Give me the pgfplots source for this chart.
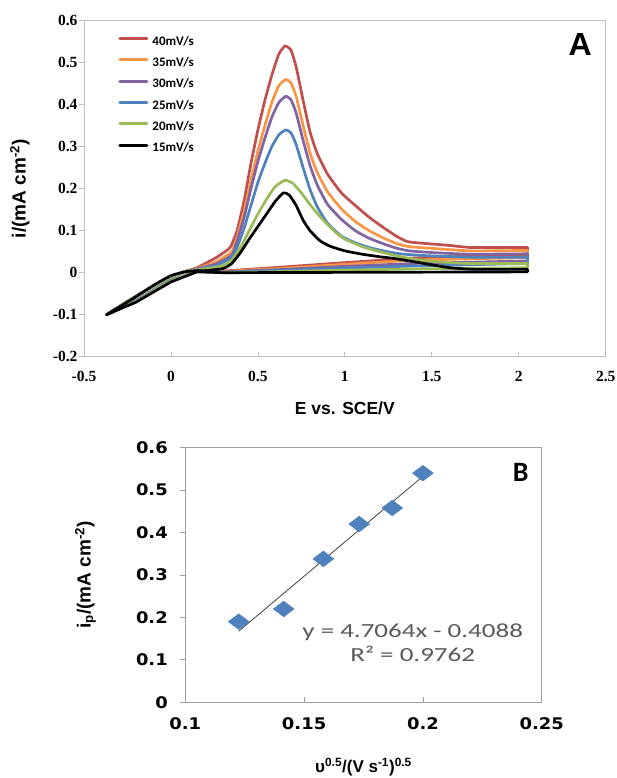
\documentclass[border=0pt]{standalone}
\usepackage{fontspec}
\setmainfont{Liberation Sans}
\newfontfamily\tnr{Liberation Serif}
\newfontfamily\dvs{DejaVu Sans}[FakeStretch=1.12]
\newfontfamily\carl{Carlito}
\newfontfamily\carlw{Carlito}[FakeStretch=1.35]
\usepackage{pgfplots}
\pgfplotsset{compat=1.18}
\definecolor{cvred}{HTML}{C0504D}
\definecolor{cvorange}{HTML}{F79646}
\definecolor{cvpurple}{HTML}{8064A2}
\definecolor{cvblue}{HTML}{4F81BD}
\definecolor{cvgreen}{HTML}{9BBB59}
\definecolor{framegray}{HTML}{BEBEBE}
\definecolor{framegrayb}{HTML}{A0A0A0}
\definecolor{eqgray}{HTML}{595959}

\begin{document}
\begin{tikzpicture}
\path[use as bounding box] (0,0) rectangle (617pt,778pt);

% ---- panel A: cyclic voltammograms (forward scan smooth, reverse scan straight) ----
\begin{axis}[
  at={(84pt,421.3pt)}, anchor=south west,
  width=521.7pt, height=336pt, scale only axis,
  xmin=-0.5, xmax=2.5, ymin=-0.2, ymax=0.6,
  xtick={-0.5,0,0.5,1,1.5,2,2.5},
  xticklabels={-0.5,0,0.5,1,1.5,2,2.5},
  ytick={-0.2,-0.1,0,0.1,0.2,0.3,0.4,0.5,0.6},
  yticklabels={-0.2,-0.1,0,0.1,0.2,0.3,0.4,0.5,0.6},
  tick pos=left, tick align=inside, major tick length=5pt,
  y tick style={xshift=-5pt},
  tick style={framegray, line width=0.8pt},
  axis line style={framegray, line width=0.8pt},
  ticklabel style={font=\tnr\bfseries\fontsize{15.5}{15.5}\selectfont},
  yticklabel style={xshift=-3pt},
  xticklabel style={yshift=-11pt},
  xlabel={E vs. SCE/V},
  ylabel={i/(mA cm\textsuperscript{-2})},
  xlabel style={font=\bfseries\fontsize{17.5}{17.5}\selectfont, at={(axis description cs:0.5,-0.153)}, anchor=center},
  ylabel style={font=\bfseries\fontsize{19}{19}\selectfont, at={(axis description cs:-0.123,0.5)}, anchor=center},
  legend style={draw=none, fill=none, at={(axis description cs:0.0657,0.955)}, anchor=north west,
    inner sep=0pt, row sep=9pt, column sep=4pt,
    nodes={inner sep=0pt, text height=9.3pt, text depth=3pt},
    font=\carl\bfseries\fontsize{13}{13}\selectfont},
  legend cell align=left,
  legend image code/.code={\draw[#1, line width=3pt] (0pt,3.5pt) -- (27pt,3.5pt);},
  every axis plot/.append style={line width=2.7pt, line join=round, line cap=round},
  fwd/.style={smooth, tension=0.3},
  rev/.style={sharp plot, forget plot},
]
\addplot[cvred, fwd] coordinates {
(-0.37,-0.1)(-0.25,-0.068)(-0.1,-0.032)(0,-0.01)(0.08,0.003)(0.15,0.012)(0.26,0.036)(0.34,0.06)
(0.38,0.1)(0.42,0.17)(0.46,0.26)(0.5,0.34)(0.54,0.41)(0.58,0.47)(0.62,0.52)(0.656,0.54)
(0.69,0.53)(0.72,0.49)(0.76,0.41)(0.8,0.335)(0.84,0.285)(0.9,0.235)(0.98,0.19)(1.06,0.16)
(1.14,0.132)(1.22,0.108)(1.3,0.086)(1.36,0.074)(1.45,0.07)(1.6,0.065)(1.72,0.06)(1.9,0.06)(2.05,0.06)
};
\addlegendentry{40mV/s}
\addplot[cvred, rev] coordinates {
(2.05,0.06)(2.05,0.042)(1.75,0.04)(1.4,0.035)(1.0,0.024)(0.66,0.014)(0.3,0.004)(0.15,0.003)(0,-0.018)(-0.2,-0.066)(-0.37,-0.1)
};
\addplot[cvorange, fwd] coordinates {
(-0.37,-0.1)(-0.25,-0.068)(-0.1,-0.032)(0,-0.01)(0.08,0.003)(0.15,0.01)(0.26,0.026)(0.35,0.05)
(0.38,0.085)(0.42,0.145)(0.46,0.22)(0.5,0.29)(0.54,0.35)(0.58,0.405)(0.62,0.445)(0.66,0.46)
(0.69,0.452)(0.72,0.42)(0.76,0.35)(0.8,0.285)(0.84,0.24)(0.9,0.193)(0.98,0.152)(1.06,0.122)
(1.14,0.1)(1.22,0.083)(1.3,0.069)(1.37,0.062)(1.5,0.058)(1.72,0.052)(2.05,0.053)
};
\addlegendentry{35mV/s}
\addplot[cvorange, rev] coordinates {
(2.05,0.053)(2.05,0.036)(1.4,0.03)(1.0,0.02)(0.66,0.011)(0.3,0.003)(0.15,0.003)(0,-0.018)(-0.2,-0.066)(-0.37,-0.1)
};
\addplot[cvpurple, fwd] coordinates {
(-0.37,-0.1)(-0.25,-0.068)(-0.1,-0.032)(0,-0.01)(0.08,0.003)(0.15,0.009)(0.26,0.021)(0.35,0.042)
(0.38,0.075)(0.42,0.13)(0.46,0.2)(0.5,0.265)(0.54,0.32)(0.58,0.37)(0.62,0.405)(0.66,0.42)
(0.69,0.412)(0.72,0.38)(0.76,0.315)(0.8,0.255)(0.84,0.21)(0.9,0.163)(0.98,0.127)(1.06,0.1)
(1.14,0.082)(1.22,0.069)(1.3,0.058)(1.37,0.052)(1.5,0.048)(1.72,0.044)(2.05,0.045)
};
\addlegendentry{30mV/s}
\addplot[cvpurple, rev] coordinates {
(2.05,0.045)(2.05,0.028)(1.4,0.022)(1.0,0.015)(0.66,0.008)(0.3,0.002)(0.15,0.003)(0,-0.018)(-0.2,-0.066)(-0.37,-0.1)
};
\addplot[cvblue, fwd] coordinates {
(-0.37,-0.1)(-0.25,-0.068)(-0.1,-0.032)(0,-0.01)(0.08,0.003)(0.15,0.008)(0.26,0.017)(0.35,0.037)
(0.38,0.06)(0.42,0.105)(0.46,0.16)(0.5,0.215)(0.54,0.26)(0.58,0.3)(0.62,0.328)(0.66,0.34)
(0.69,0.333)(0.72,0.305)(0.76,0.25)(0.8,0.198)(0.84,0.158)(0.9,0.118)(0.98,0.087)(1.06,0.071)
(1.14,0.06)(1.22,0.052)(1.3,0.046)(1.37,0.043)(1.5,0.04)(1.72,0.037)(2.05,0.037)
};
\addlegendentry{25mV/s}
\addplot[cvblue, rev] coordinates {
(2.05,0.037)(2.05,0.022)(1.4,0.016)(1.0,0.011)(0.66,0.006)(0.3,0.001)(0.15,0.003)(0,-0.018)(-0.2,-0.066)(-0.37,-0.1)
};
\addplot[cvgreen, fwd] coordinates {
(-0.37,-0.1)(-0.25,-0.068)(-0.1,-0.032)(0,-0.01)(0.08,0.003)(0.15,0.007)(0.26,0.013)(0.3,0.017)(0.35,0.03)
(0.4,0.06)(0.45,0.1)(0.5,0.14)(0.55,0.175)(0.6,0.205)(0.655,0.22)(0.7,0.213)(0.75,0.19)
(0.8,0.162)(0.85,0.137)(0.9,0.115)(0.95,0.095)(1.0,0.08)(1.1,0.062)(1.2,0.05)(1.3,0.04)
(1.4,0.032)(1.5,0.027)(1.7,0.022)(2.05,0.022)
};
\addlegendentry{20mV/s}
\addplot[cvgreen, rev] coordinates {
(2.05,0.022)(2.05,0.012)(1.4,0.009)(1.0,0.006)(0.66,0.003)(0.3,0.0)(0.15,0.003)(0,-0.02)(-0.2,-0.068)(-0.37,-0.1)
};
\addplot[black, fwd] coordinates {
(-0.37,-0.1)(-0.235,-0.066)(-0.1,-0.03)(0,-0.007)(0.08,0.002)(0.15,0.005)(0.2,0.005)(0.3,0.01)(0.35,0.022)
(0.4,0.048)(0.45,0.08)(0.5,0.11)(0.55,0.14)(0.6,0.17)(0.646,0.19)(0.68,0.185)(0.72,0.16)
(0.76,0.125)(0.8,0.1)(0.857,0.076)(0.915,0.063)(1.0,0.052)(1.1,0.044)(1.2,0.038)(1.28,0.034)
(1.4,0.026)(1.51,0.018)(1.6,0.012)(1.74,0.008)(2.05,0.008)
};
\addlegendentry{15mV/s}
\addplot[black, rev] coordinates {
(2.05,0.008)(2.05,0.002)(1.2,0.001)(0.3,0.0)(0.15,0.002)(0,-0.022)(-0.2,-0.07)(-0.37,-0.1)
};
\node[font=\bfseries\fontsize{32}{32}\selectfont] at (axis description cs:0.951,0.928) {A};
\end{axis}

% ---- panel B: peak current vs square root of scan rate ----
\begin{axis}[
  at={(185.3pt,75.7pt)}, anchor=south west,
  width=356.4pt, height=254.6pt, scale only axis,
  xmin=0.1, xmax=0.25, ymin=0, ymax=0.6,
  xtick={0.1,0.15,0.2,0.25},
  xticklabels={0.1,0.15,0.2,0.25},
  ytick={0,0.1,0.2,0.3,0.4,0.5,0.6},
  yticklabels={0,0.1,0.2,0.3,0.4,0.5,0.6},
  tick pos=left, tick align=inside, major tick length=5pt,
  y tick style={xshift=-5pt},
  tick style={framegrayb, line width=0.8pt},
  axis line style={framegrayb, line width=1pt},
  ticklabel style={font=\dvs\bfseries\fontsize{16}{16}\selectfont},
  yticklabel style={xshift=-14pt},
  xticklabel style={yshift=-12pt},
  xlabel={υ\textsuperscript{0.5}/(V s\textsuperscript{-1})\textsuperscript{0.5}},
  ylabel={i\textsubscript{p}/(mA cm\textsuperscript{-2})},
  xlabel style={font=\bfseries\fontsize{17}{17}\selectfont, at={(axis description cs:0.5,-0.254)}, anchor=center},
  ylabel style={font=\bfseries\fontsize{19}{19}\selectfont, at={(axis description cs:-0.28,0.5)}, anchor=center},
]
\addplot[draw=none, mark=diamond*, mark size=10.5pt,
  mark options={rotate=90, fill=cvblue, draw=cvblue}] coordinates {
(0.1225,0.19)(0.1414,0.22)(0.1581,0.338)(0.1732,0.42)(0.1871,0.458)(0.2,0.54)
};
\addplot[color=black!75, line width=0.8pt] coordinates {(0.1225,0.1677)(0.2,0.5325)};
\node[font=\carlw\fontsize{20}{24}\selectfont, text=eqgray, align=center] at (axis description cs:0.638,0.232) {y = 4.7064x - 0.4088\\R² = 0.9762};
\node[font=\carl\bfseries\fontsize{28}{28}\selectfont] at (axis description cs:0.941,0.903) {B};
\end{axis}
\end{tikzpicture}
\end{document}
